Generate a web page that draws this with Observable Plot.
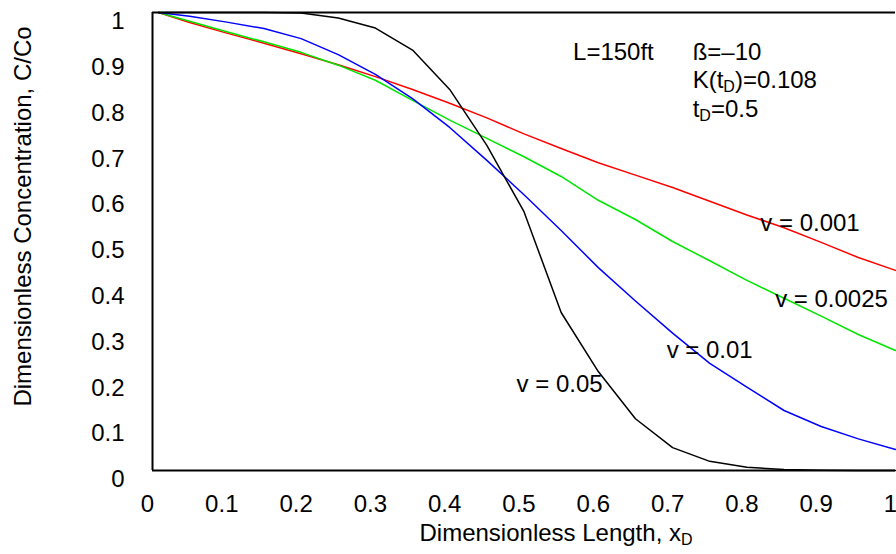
<!DOCTYPE html>
<html><head><meta charset="utf-8">
<script src="https://cdn.jsdelivr.net/npm/d3@7"></script>
<script src="https://cdn.jsdelivr.net/npm/@observablehq/plot@0.6"></script>
<style>
body{margin:0;background:#fff}
svg{font-family:"Liberation Sans",Arial,Helvetica,sans-serif}
</style>
</head><body><div id="chart"></div>
<script>
// Dimensionless length x_D
const xD = [0.008, 0.05, 0.1, 0.15, 0.2, 0.25, 0.3, 0.35, 0.4, 0.45, 0.5, 0.55, 0.6, 0.65, 0.7, 0.75, 0.8, 0.85, 0.9, 0.95, 1.0];
// C/Co for each velocity
const v0001 = [1.0, 0.978, 0.955, 0.933, 0.91, 0.886, 0.86, 0.832, 0.802, 0.77, 0.735, 0.703, 0.672, 0.645, 0.618, 0.588, 0.558, 0.53, 0.498, 0.465, 0.437];
const v00025 = [1.0, 0.981, 0.958, 0.936, 0.913, 0.885, 0.852, 0.808, 0.765, 0.725, 0.685, 0.642, 0.59, 0.548, 0.50, 0.458, 0.415, 0.376, 0.337, 0.297, 0.262];
const v001 = [1.0, 0.992, 0.979, 0.965, 0.943, 0.908, 0.865, 0.812, 0.749, 0.677, 0.602, 0.524, 0.443, 0.37, 0.30, 0.234, 0.182, 0.131, 0.096, 0.069, 0.046];
const v005 = [1.0, 1.0, 1.0, 1.0, 0.999, 0.988, 0.966, 0.918, 0.832, 0.71, 0.565, 0.345, 0.216, 0.113, 0.05, 0.02, 0.007, 0.002, 0.0005, 0, 0];

const seriesNames = ["v = 0.001", "v = 0.0025", "v = 0.01", "v = 0.05"];
const seriesValues = [v0001, v00025, v001, v005];
const seriesColors = ["#ff0000", "#00e600", "#0000ff", "#000000"];
// label anchor positions (data coordinates)
const labelX = [0.818, 0.838, 0.692, 0.49];
const labelY = [0.539, 0.373, 0.262, 0.188];

const xTicks = [0, 0.1, 0.2, 0.3, 0.4, 0.5, 0.6, 0.7, 0.8, 0.9, 1];
const yTicks = [0, 0.1, 0.2, 0.3, 0.4, 0.5, 0.6, 0.7, 0.8, 0.9, 1];

const notes = ["L=150ft", "ß=–10", "K(t_D)=0.108", "t_D=0.5"];
const notesX = [0.566, 0.727, 0.727, 0.727];
const notesY = [0.912, 0.912, 0.852, 0.789];

const xTitle = "Dimensionless Length, x_D";
const yTitle = "Dimensionless Concentration, C/Co";

const rows = seriesNames.flatMap((s, i) => xD.map((x, j) => ({series: s, x, y: seriesValues[i][j]})));
const labels = seriesNames.map((s, i) => ({text: s, x: labelX[i], y: labelY[i]}));
const noteRows = notes.map((t, i) => ({text: t, x: notesX[i], y: notesY[i]}));

const fmt = d => d === 0 ? "0" : d === 1 ? "1" : String(d);
const FS = 24;

const chart = Plot.plot({
  width: 896, height: 554,
  marginLeft: 152, marginRight: 1, marginTop: 12, marginBottom: 84,
  x: {domain: [0, 1], label: null},
  y: {domain: [0, 1], label: null},
  style: {fontFamily: '"Liberation Sans", Arial, Helvetica, sans-serif', fontSize: FS + "px", color: "black", background: "white"},
  marks: [
    Plot.axisX(xTicks, {tickSize: 0, tickPadding: 24, dx: -5, fontSize: FS, tickFormat: fmt, label: null}),
    Plot.axisY(yTicks, {tickSize: 0, tickPadding: 28, dy: 9, fontSize: FS, tickFormat: fmt, label: null}),
    ...seriesNames.map((s, i) => Plot.line(rows.filter(r => r.series === s), {x: "x", y: "y", stroke: seriesColors[i], strokeWidth: 1.5})),
    Plot.ruleY([0, 1], {stroke: "black", strokeWidth: 2}),
    Plot.ruleX([0], {stroke: "black", strokeWidth: 2}),
    Plot.text(labels, {x: "x", y: "y", text: "text", textAnchor: "start", fontSize: FS, fill: "black"}),
    Plot.text(noteRows, {x: "x", y: "y", text: "text", textAnchor: "start", fontSize: FS, fill: "black"}),
    Plot.text([xTitle], {text: d => d, frameAnchor: "bottom-left", textAnchor: "start", dx: 267, dy: 70, fontSize: FS, fill: "black"}),
    Plot.text([yTitle], {text: d => d, frameAnchor: "left", rotate: -90, textAnchor: "middle", dx: -129, dy: -25, fontSize: FS, fill: "black"})
  ]
});

// subscripts
chart.querySelectorAll("text").forEach(t => {
  if (t.children.length === 0 && t.textContent.includes("_D")) {
    const parts = t.textContent.split("_D");
    t.textContent = "";
    const ns = "http://www.w3.org/2000/svg";
    t.appendChild(document.createTextNode(parts[0]));
    const sub = document.createElementNS(ns, "tspan");
    sub.setAttribute("dy", "4");
    sub.setAttribute("font-size", "16");
    sub.textContent = "D";
    t.appendChild(sub);
    if (parts[1]) {
      const rest = document.createElementNS(ns, "tspan");
      rest.setAttribute("dy", "-4");
      rest.textContent = parts[1];
      t.appendChild(rest);
    }
  }
});

document.getElementById("chart").appendChild(chart);
</script>
</body></html>
